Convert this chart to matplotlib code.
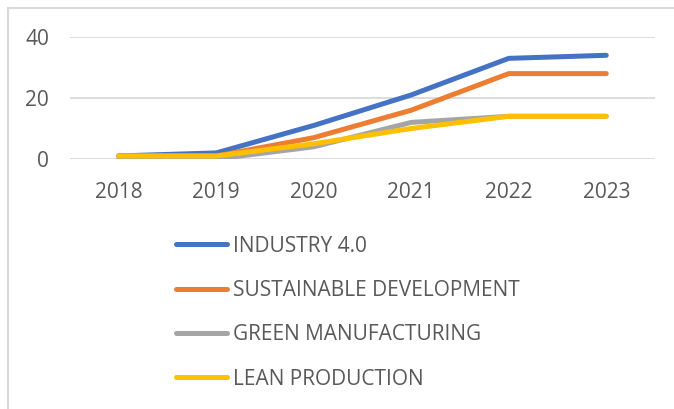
import matplotlib.pyplot as plt
from matplotlib.lines import Line2D

# 데이터
years = ["2018", "2019", "2020", "2021", "2022", "2023"]
industry_40 = [1, 2, 11, 21, 33, 34]
sustainable_dev = [1, 1, 7, 16, 28, 28]
green_manuf = [0, 0, 4, 12, 14, 14]
lean_prod = [1, 1, 5, 10, 14, 14]
y_ticks = [0, 20, 40]

series = [
    ("INDUSTRY 4.0", industry_40, "#4472C4"),
    ("SUSTAINABLE DEVELOPMENT", sustainable_dev, "#ED7D31"),
    ("GREEN MANUFACTURING", green_manuf, "#A5A5A5"),
    ("LEAN PRODUCTION", lean_prod, "#FFC000"),
]

plt.rcParams["font.family"] = ["Open Sans", "DejaVu Sans"]

W, H = 674, 409
fig = plt.figure(figsize=(W / 100, H / 100), dpi=100)
ax = fig.add_axes([70 / W, 1 - 159 / H, 585 / W, 122 / H])

x = range(len(years))
for label, vals, color in series:
    ax.plot(x, vals, color=color, lw=3.6, solid_capstyle="round",
            solid_joinstyle="round", label=label)

ax.set_xlim(-0.5, len(years) - 0.5)
ax.set_ylim(0, 40)
ax.set_yticks(y_ticks)
ax.set_xticks(list(x))
ax.set_xticklabels(years)
ax.grid(axis="y", color="#D9D9D9", lw=1.3)
ax.set_axisbelow(True)
for sp in ax.spines.values():
    sp.set_visible(False)
ax.tick_params(length=0, labelsize=15, labelcolor="#595959")
ax.tick_params(axis="x", pad=16.5)
ax.tick_params(axis="y", pad=15)

handles, labels = ax.get_legend_handles_labels()
fig.legend(handles, labels, loc="upper left", bbox_to_anchor=(157 / W, 1 - 217 / H),
           frameon=False, fontsize=15, labelcolor="#595959",
           handlelength=2.45, handletextpad=0.3, labelspacing=1.12)

# 바깥 테두리 (오른쪽/아래는 잘림)
bx, by = 7.5 / W, 1 - 7.5 / H
fig.add_artist(Line2D([bx, bx], [by, -0.1], transform=fig.transFigure,
                      color="#D9D9D9", lw=1.5))
fig.add_artist(Line2D([bx, 1.1], [by, by], transform=fig.transFigure,
                      color="#D9D9D9", lw=1.5))

fig.savefig("out.png", dpi=100)
